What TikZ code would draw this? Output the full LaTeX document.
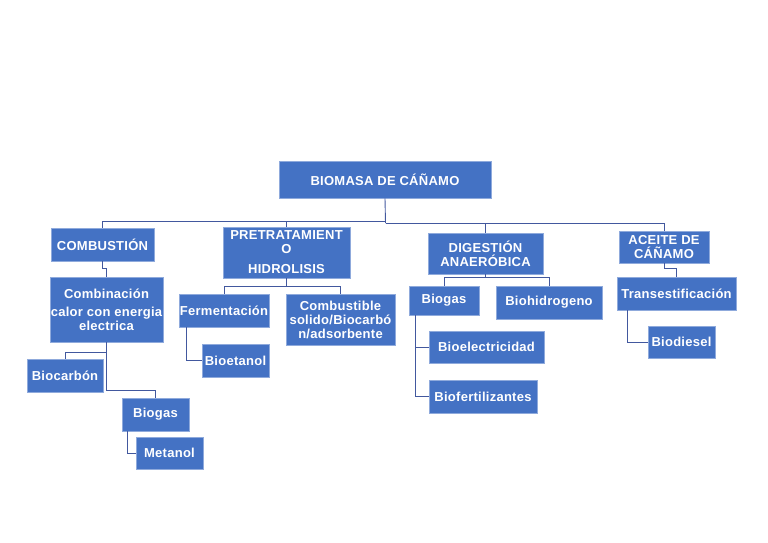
\documentclass[tikz,border=0pt]{standalone}
\usepackage{fontspec}
\setmainfont{Liberation Sans}[LetterSpace=2]
\definecolor{boxblue}{RGB}{68,114,196}
\definecolor{edgeblue}{RGB}{143,170,220}
\definecolor{lineblue}{RGB}{66,88,158}
\begin{document}
\begin{tikzpicture}[x=1pt, y=-1pt]
        \tikzstyle{box}=[draw=edgeblue, line width=0.6pt, rectangle, fill=boxblue, text=white, font=\bfseries\fontsize{13}{14}\selectfont, inner sep=0pt, align=center];
        \tikzstyle{link}=[draw=lineblue, line width=0.9pt];

        \useasboundingbox (0,0) rectangle (768,543);

        % level 0
        \node[box, minimum width=212pt, minimum height=37pt] (biomasa) at (385,179.5) {BIOMASA DE CÁÑAMO};

        % level 1
        \node[box, minimum width=103pt, minimum height=33pt] (combustion) at (102.5,244.5) {COMBUSTIÓN};
        \node[box, minimum width=127pt, minimum height=51pt] (pretrat) at (286.5,252.5) {PRETRATAMIENT\\O\\[6pt]HIDROLISIS};
        \node[box, minimum width=115pt, minimum height=41pt] (digestion) at (485.5,253.5) {DIGESTIÓN\\ANAERÓBICA};
        \node[box, minimum width=90pt, minimum height=32pt] (aceite) at (664,247) {ACEITE DE\\CÁÑAMO};

        % level 2
        \node[box, minimum width=113pt, minimum height=65pt] (combinacion) at (106.5,309.5) {Combinación\\[4pt]calor con energia\\electrica};
        \node[box, minimum width=90pt, minimum height=33pt] (fermentacion) at (224,310.5) {Fermentación};
        \node[box, minimum width=109pt, minimum height=51pt] (combustible) at (340.5,319.5) {Combustible\\solido/Biocarbó\\n/adsorbente};
        \node[box, minimum width=70pt, minimum height=29pt] (biogasd) at (444,300.5) {Biogas};
        \node[box, minimum width=106pt, minimum height=33pt] (biohidrogeno) at (549,302.5) {Biohidrogeno};
        \node[box, minimum width=119pt, minimum height=33pt] (transest) at (676.5,293.5) {Transestificación};

        % level 3
        \node[box, minimum width=76pt, minimum height=33pt] (biocarbon) at (65,375.5) {Biocarbón};
        \node[box, minimum width=67pt, minimum height=33pt] (biogasc) at (155.5,414.5) {Biogas};
        \node[box, minimum width=67pt, minimum height=32pt] (metanol) at (169.5,453) {Metanol};
        \node[box, minimum width=67pt, minimum height=33pt] (bioetanol) at (235.5,360.5) {Bioetanol};
        \node[box, minimum width=115pt, minimum height=32pt] (bioelec) at (486.5,347) {Bioelectricidad};
        \node[box, minimum width=108pt, minimum height=33pt] (biofert) at (483,396.5) {Biofertilizantes};
        \node[box, minimum width=67pt, minimum height=32pt] (biodiesel) at (681.5,342) {Biodiesel};

        % bus under the root
        \coordinate (busl) at (385.5,221);
        \coordinate (busr) at (385.5,223);
        \draw[link] (biomasa.south) -- (busr);
        \draw[link] (busl) -| (combustion.north);
        \draw[link] (busl) -| (pretrat.north);
        \draw[link] (busr) -| (digestion.north);
        \draw[link] (busr) -| (aceite.north);

        % branches
        \draw[link] (combustion.south) -- ++(0,7) -| (combinacion.north);
        \draw[link] (combinacion.south) -- ++(0,10) -| (biocarbon.north);
        \draw[link] (combinacion.south) -- ++(0,48) -| (biogasc.north);
        \draw[link] ([xshift=6pt]biogasc.south west) |- (metanol.west);
        \draw[link] (pretrat.south) -- ++(0,8) -| (fermentacion.north);
        \draw[link] (pretrat.south) -- ++(0,8) -| (combustible.north);
        \draw[link] ([xshift=8pt]fermentacion.south west) |- (bioetanol.west);
        \draw[link] (digestion.south) -- ++(0,3) -| (biogasd.north);
        \draw[link] (digestion.south) -- ++(0,3) -| (biohidrogeno.north);
        \draw[link] ([xshift=7pt]biogasd.south west) |- (bioelec.west);
        \draw[link] ([xshift=7pt]biogasd.south west) |- (biofert.west);
        \draw[link] (aceite.south) -- ++(0,5) -| (transest.north);
        \draw[link] ([xshift=11pt]transest.south west) |- (biodiesel.west);
    \end{tikzpicture}
\end{document}
